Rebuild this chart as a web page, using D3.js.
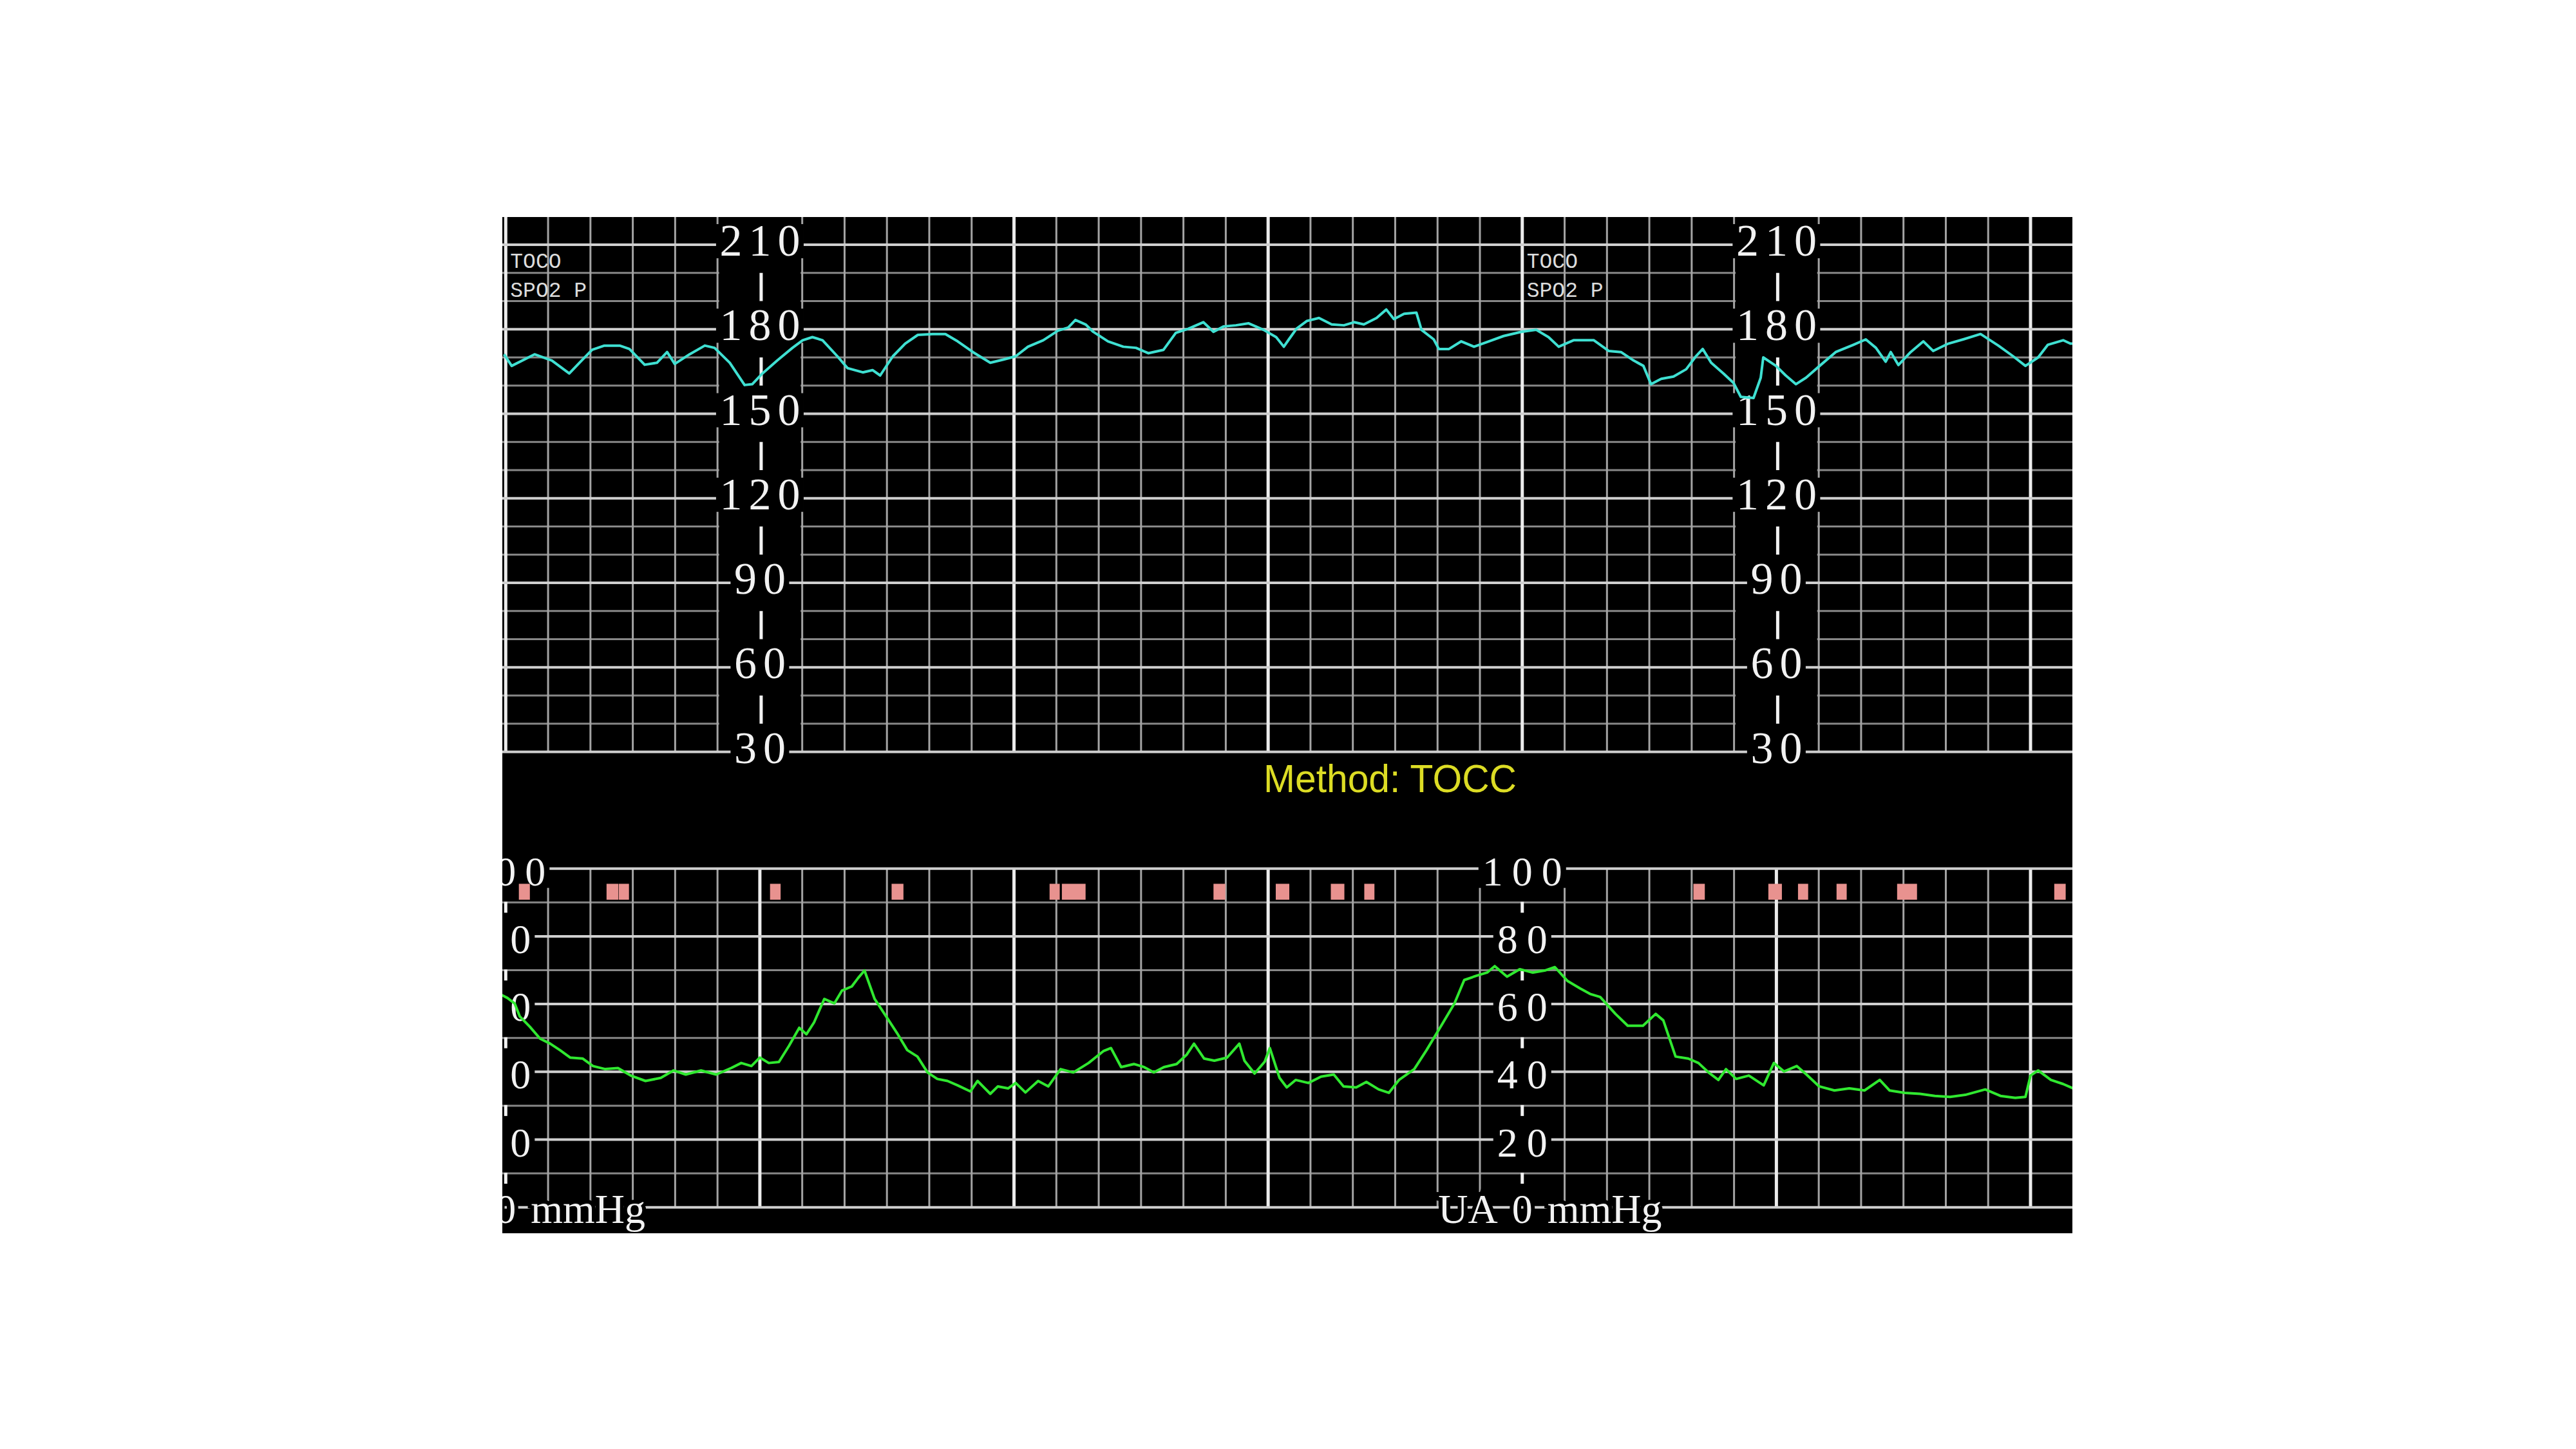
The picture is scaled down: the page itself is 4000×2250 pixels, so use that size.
<!DOCTYPE html>
<html><head><meta charset="utf-8">
<script src="https://cdn.jsdelivr.net/npm/d3@7"></script>
<style>html,body{margin:0;padding:0;background:#fff;} svg{display:block;}</style>
</head><body>
<svg id="chart" width="4000" height="2250"></svg>
<script>
// ---------- data ----------
const fhrTicks = [210, 180, 150, 120, 90, 60, 30];
const fhrMinorTicks = [200, 190, 170, 160, 140, 130, 110, 100, 80, 70, 50, 40];
const uaTicks = [100, 80, 60, 40, 20];
const uaMinorTicks = [90, 70, 50, 30, 10];
const uaZeroLabel = ["UA", "0", "mmHg"];
const channelLabels = ["TOCO", "SPO2 P"];
const methodLabel = "Method: TOCC";
const timeGrid = d3.range(0, 370, 10);          // seconds, 10 s minor grid
const fhrAxisTimes = [60, 300];                 // where the FHR scale is printed
const uaAxisTimes = [0, 240];                   // where the UA scale is printed
const channelLabelTimes = [0, 240];

const fhrTrace = [[-0.4,171.1],[1.4,167.0],[6.8,171.1],[10.9,168.9],[15.0,164.3],[17.4,168.1],[20.4,172.7],[23.3,174.2],[26.9,174.2],[29.2,173.0],[32.8,167.4],[35.7,168.1],[38.1,171.9],[39.9,167.7],[43.4,171.1],[47.0,174.2],[49.3,173.4],[52.9,168.1],[56.4,160.2],[58.2,160.5],[60.6,164.3],[64.1,168.9],[67.7,173.4],[70.1,176.1],[72.4,177.2],[74.8,176.1],[78.3,170.4],[80.7,166.2],[84.3,164.7],[86.6,165.5],[88.4,163.6],[91.4,170.4],[94.3,174.9],[97.3,178.0],[100.8,178.3],[103.8,178.3],[106.7,175.7],[110.3,171.9],[114.4,168.1],[117.4,169.2],[120.4,170.4],[123.3,173.8],[126.9,176.1],[130.4,179.5],[132.8,180.6],[134.5,183.3],[136.9,181.7],[138.7,179.1],[142.2,175.7],[145.8,173.8],[148.8,173.4],[151.7,171.5],[155.3,172.7],[158.2,178.7],[161.2,180.2],[164.7,182.5],[167.1,179.1],[169.5,181.0],[172.4,181.4],[175.4,182.1],[178.9,179.8],[181.9,177.2],[183.7,173.8],[184.9,176.4],[186.7,180.2],[189.1,182.9],[192.0,184.0],[195.0,181.7],[197.9,181.4],[200.3,182.5],[202.6,181.7],[205.6,184.0],[207.9,187.0],[209.7,183.6],[212.1,185.5],[215.0,185.9],[216.2,179.8],[219.1,176.4],[220.3,173.0],[222.7,173.0],[225.6,175.7],[228.6,173.8],[232.1,175.7],[235.6,177.6],[239.8,179.1],[243.3,179.8],[246.2,177.2],[248.6,173.8],[252.1,176.1],[256.9,176.1],[260.4,172.3],[263.3,171.9],[266.3,168.9],[268.6,167.0],[270.4,160.5],[272.8,162.4],[275.7,163.2],[278.7,165.8],[281.0,170.4],[282.6,173.0],[284.6,168.1],[287.5,164.3],[289.9,160.9],[291.6,156.0],[294.6,155.6],[296.3,162.8],[296.9,170.0],[299.9,167.0],[302.2,163.6],[304.6,160.5],[307.0,162.8],[309.9,166.6],[314.0,171.9],[318.2,174.5],[321.1,176.4],[323.5,173.4],[325.8,168.5],[327.0,171.9],[328.8,167.3],[331.7,171.9],[334.7,175.7],[337.0,172.3],[340.6,174.9],[344.1,176.4],[348.2,178.3],[352.4,174.2],[355.9,170.4],[358.8,167.0],[361.8,170.0],[364.1,174.5],[367.7,176.1],[369.4,174.9],[371.0,175.0]];

const uaTrace = [[-1.4,63.0],[0.4,61.8],[2.1,60.2],[3.3,56.4],[5.7,53.3],[8.1,49.8],[10.5,48.3],[12.8,46.4],[15.2,44.2],[18.2,43.9],[20.6,41.7],[23.5,40.8],[26.5,41.1],[29.5,38.9],[33.0,37.3],[36.6,38.2],[39.6,40.4],[42.5,39.2],[46.1,40.4],[49.7,39.2],[53.2,41.1],[55.6,42.6],[58.0,41.7],[60.0,44.2],[62.1,42.6],[64.5,42.9],[66.9,47.7],[69.3,53.0],[71.0,51.1],[72.8,54.6],[75.2,61.5],[77.6,60.2],[79.4,64.0],[81.7,65.2],[83.2,67.7],[84.7,69.9],[87.1,61.5],[90.1,55.8],[92.4,51.4],[94.8,46.4],[97.2,44.5],[99.6,39.8],[101.9,37.9],[104.3,37.3],[106.7,36.0],[109.7,34.2],[111.4,37.3],[114.4,33.5],[116.2,35.7],[118.6,35.1],[120.4,36.7],[122.7,33.9],[125.7,37.3],[128.1,35.7],[131.0,40.8],[134.0,39.8],[137.6,42.6],[141.1,46.1],[142.9,47.0],[145.3,41.4],[148.3,42.3],[150.7,41.4],[153.0,39.8],[155.4,41.4],[158.4,42.3],[160.8,45.1],[162.5,48.3],[164.9,43.9],[167.3,43.3],[170.3,44.2],[173.2,48.3],[174.4,43.3],[176.8,39.5],[179.2,43.0],[180.4,47.0],[182.7,38.2],[184.4,35.4],[186.5,37.6],[189.5,36.7],[192.5,38.6],[195.5,39.2],[197.8,35.7],[200.8,35.4],[203.2,37.0],[206.1,34.8],[208.5,33.8],[210.9,37.6],[214.5,40.8],[217.4,46.4],[221.0,53.9],[224.0,60.2],[226.3,67.1],[229.3,68.4],[231.7,69.3],[233.5,71.2],[236.4,68.1],[239.4,70.3],[242.4,69.3],[245.3,69.9],[247.7,70.9],[250.7,66.8],[253.7,64.6],[256.0,63.0],[258.4,62.1],[262.0,57.1],[264.9,53.6],[268.5,53.6],[271.5,57.1],[273.3,55.2],[276.2,44.5],[279.2,43.9],[281.6,42.6],[284.0,39.8],[286.3,37.6],[288.1,40.8],[290.5,37.9],[293.5,38.9],[297.0,36.0],[299.4,42.6],[301.8,40.1],[304.8,41.7],[307.1,39.2],[310.1,35.7],[313.7,34.5],[317.2,35.1],[320.8,34.5],[324.4,37.6],[326.7,34.5],[330.3,33.8],[333.9,33.5],[337.4,32.9],[341.0,32.6],[344.6,33.2],[349.3,34.8],[352.9,32.9],[356.4,32.3],[358.8,32.6],[360.0,38.9],[361.8,40.4],[364.8,37.6],[367.7,36.4],[370.1,35.1],[371.0,35.0]];

// movement / event markers: [start s, end s]
const markers = [[3.1,5.7],[23.8,26.6],[26.7,29.1],[62.4,64.9],[91.1,93.9],[128.4,130.8],[131.3,136.9],[167.1,169.9],[181.8,185.0],[194.8,198.0],[202.7,205.1],[280.4,283.1],[298.1,301.3],[305.1,307.5],[314.2,316.6],[328.5,333.2],[365.6,368.3]];

// ---------- layout ----------
const panel = {x0: 780, x1: 3218, y0: 337, y1: 1915};
const x = d3.scaleLinear().domain([0, 360]).range([785.3, 3153]);
const yF = d3.scaleLinear().domain([30, 210]).range([1167.5, 380]);
const yU = d3.scaleLinear().domain([0, 100]).range([1874.7, 1348.7]);

const C = {
  majorV: "#ececec", minorV: "#a4a4a4", majorH: "#cfcfcf", minorH: "#878787",
  label: "#f2f2f2", fhr: "#3fe0d2", ua: "#30e830", marker: "#e8928f", method: "#dcdc24"
};
const serif = "'Liberation Serif', 'Times New Roman', serif";

const svg = d3.select("#chart");
svg.append("defs").append("clipPath").attr("id", "pclip")
  .append("rect").attr("x", panel.x0).attr("y", panel.y0)
  .attr("width", panel.x1 - panel.x0).attr("height", panel.y1 - panel.y0);

svg.append("rect").attr("x", panel.x0).attr("y", panel.y0)
  .attr("width", panel.x1 - panel.x0).attr("height", panel.y1 - panel.y0).attr("fill", "#000");

const g = svg.append("g").attr("clip-path", "url(#pclip)");

function hLines(sel, vals, yScale, color, w) {
  sel.selectAll(null).data(vals).enter().append("line")
    .attr("x1", panel.x0).attr("x2", panel.x1)
    .attr("y1", d => yScale(d)).attr("y2", d => yScale(d))
    .attr("stroke", color).attr("stroke-width", w);
}
function vLines(sel, vals, yTop, yBot, color, w) {
  sel.selectAll(null).data(vals).enter().append("line")
    .attr("x1", d => x(d)).attr("x2", d => x(d))
    .attr("y1", yTop).attr("y2", yBot)
    .attr("stroke", color).attr("stroke-width", w);
}
// numeric scale label: black box behind, digits on a fixed pitch
function digitLabel(sel, text, cx, baseY, size, pitch, glyphW, pad) {
  const chars = text.split("");
  const n = chars.length;
  const half = ((n - 1) * pitch + glyphW) / 2 + pad;
  sel.append("rect").attr("x", cx - half).attr("width", 2 * half)
    .attr("y", baseY - size * 0.7).attr("height", size * 0.7 + 4).attr("fill", "#000");
  const t = sel.append("text")
    .attr("font-family", serif).attr("font-size", size).attr("fill", C.label)
    .attr("text-anchor", "middle");
  chars.forEach((ch, i) => {
    t.append("tspan").attr("x", cx + (i - (n - 1) / 2) * pitch).attr("y", baseY).text(ch);
  });
}

// ---------- upper (FHR) grid ----------
const up = g.append("g");
hLines(up, fhrMinorTicks, yF, C.minorH, 3);
const upMinorT = timeGrid.filter(t => t % 60 !== 0);
const upMajorT = timeGrid.filter(t => t % 60 === 0 && !fhrAxisTimes.includes(t));
vLines(up, upMinorT, panel.y0, yF(30), C.minorV, 3);
vLines(up, upMajorT, panel.y0, yF(30), C.majorV, 5);
// black column behind the printed scale
up.selectAll(null).data(fhrAxisTimes).enter().append("rect")
  .attr("x", d => x(d - 10) + 2.5).attr("width", d => x(d + 10) - x(d - 10) - 5)
  .attr("y", panel.y0).attr("height", yF(30) - panel.y0 + 3).attr("fill", "#000");
hLines(up, fhrTicks, yF, C.majorH, 4);
fhrAxisTimes.forEach(t => {
  fhrTicks.forEach(v => digitLabel(up, String(v), x(t), yF(v) + 17, 70, 45, 32, 7));
  fhrTicks.slice(0, -1).forEach(v => {
    up.append("line").attr("x1", x(t) + 2).attr("x2", x(t) + 2)
      .attr("y1", yF(v - 10)).attr("y2", yF(v - 20))
      .attr("stroke", C.label).attr("stroke-width", 5);
  });
});

// ---------- lower (UA) grid ----------
const lo = g.append("g");
hLines(lo, uaMinorTicks, yU, C.minorH, 3);
const loMinorT = timeGrid.filter(t => t % 60 !== 0);
const loMajorT = timeGrid.filter(t => t % 60 === 0 && !uaAxisTimes.includes(t));
vLines(lo, loMinorT, yU(100), yU(0), C.minorV, 3);
vLines(lo, loMajorT, yU(100), yU(0), C.majorV, 5);
hLines(lo, uaTicks.concat([0]), yU, C.majorH, 4);
uaAxisTimes.forEach(t => {
  uaTicks.forEach(v => digitLabel(lo, String(v), x(t), yU(v) + 26, 64, 46, 30, 7));
  uaMinorTicks.forEach(v => {
    lo.append("line").attr("x1", x(t)).attr("x2", x(t))
      .attr("y1", yU(v) - 1).attr("y2", yU(v) + 16)
      .attr("stroke", C.label).attr("stroke-width", 5);
  });
  const base = yU(0) + 24;
  const common = s => s.attr("font-family", serif)
    .attr("font-size", 64).attr("fill", C.label)
    .attr("stroke", "#000").attr("stroke-width", 12).attr("paint-order", "stroke");
  common(lo.append("text")).attr("x", x(t) - 38).attr("y", base).attr("text-anchor", "end").text(uaZeroLabel[0]);
  common(lo.append("text")).attr("x", x(t)).attr("y", base).attr("text-anchor", "middle").text(uaZeroLabel[1]);
  common(lo.append("text")).attr("x", x(t) + 39).attr("y", base).attr("text-anchor", "start").text(uaZeroLabel[2]);
});

// ---------- texts ----------
channelLabelTimes.forEach(t => {
  channelLabels.forEach((s, i) => {
    g.append("text").attr("x", x(t) + 7).attr("y", 416 + i * 45)
      .attr("font-family", "'Liberation Mono', 'Courier New', monospace")
      .attr("font-size", 33).attr("fill", "#dcdcdc").text(s);
  });
});
g.append("text").attr("x", 1962).attr("y", 1230)
  .attr("font-family", "'Liberation Sans', Arial, sans-serif")
  .attr("font-size", 62).attr("fill", C.method)
  .attr("textLength", 393).attr("lengthAdjust", "spacingAndGlyphs")
  .text(methodLabel);

// ---------- markers ----------
g.selectAll(null).data(markers).enter().append("rect")
  .attr("x", d => x(d[0])).attr("width", d => x(d[1]) - x(d[0]))
  .attr("y", yU(95.5)).attr("height", yU(90.8) - yU(95.5))
  .attr("fill", C.marker);

// ---------- traces ----------
g.append("path").datum(fhrTrace)
  .attr("d", d3.line().x(d => x(d[0])).y(d => yF(d[1])))
  .attr("fill", "none").attr("stroke", C.fhr).attr("stroke-width", 4)
  .attr("stroke-linejoin", "round");
g.append("path").datum(uaTrace)
  .attr("d", d3.line().x(d => x(d[0])).y(d => yU(d[1])))
  .attr("fill", "none").attr("stroke", C.ua).attr("stroke-width", 4)
  .attr("stroke-linejoin", "round");
</script>
</body></html>
